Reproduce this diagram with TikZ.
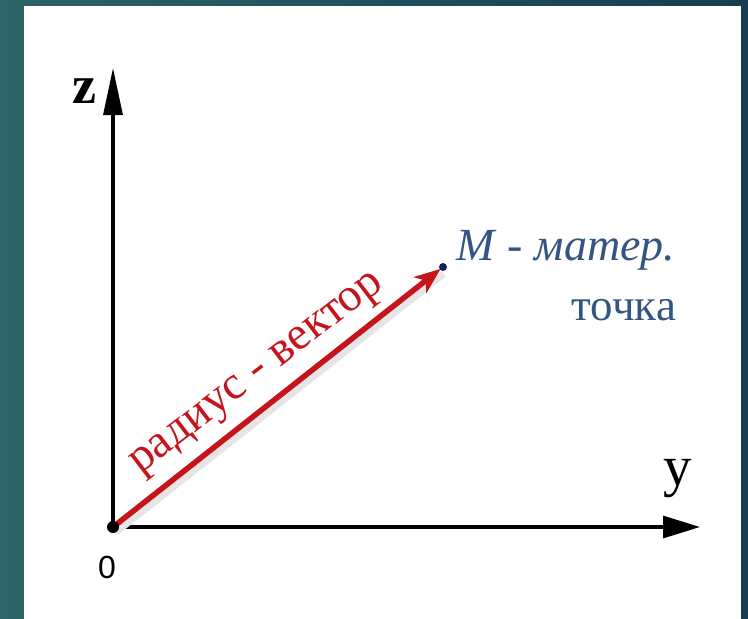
\documentclass[tikz,border=0pt]{standalone}
\usepackage{fontspec}
\setmainfont{Liberation Serif}
\newfontfamily\sansf{Liberation Sans}
\usetikzlibrary{arrows.meta}
\definecolor{bgleft}{RGB}{44,100,104}
\definecolor{bgright}{RGB}{22,60,78}
\definecolor{vecred}{RGB}{198,20,28}
\definecolor{mblue}{RGB}{52,84,132}
\definecolor{mdot}{RGB}{20,30,80}
\begin{document}
\begin{tikzpicture}[x=1pt,y=-1pt,
  axisline/.style={line width=3.2pt, black},
  vecline/.style={line width=5.5pt, vecred, -{Stealth[length=26pt,width=20pt,inset=7pt]}, shorten >=3pt},
  vecshadow/.style={line width=7pt, black!10, shorten >=3pt},
  lbl/.style={inner sep=0pt, outer sep=0pt}]
\useasboundingbox (0,0) rectangle (748,619);
\shade[left color=bgleft,right color=bgright] (0,0) rectangle (748,619);
\fill[white] (24,6) rectangle (741,619);
% axes
\coordinate (O) at (113,527);
\coordinate (Zt) at (113,68);
\coordinate (Yt) at (700,527);
\draw[axisline, -{Triangle[length=47pt,width=19pt]}] (O) -- (Zt);
\draw[axisline, -{Triangle[length=37pt,width=22pt]}] (O) -- (Yt);
% point M
\coordinate (M) at (443,267);
\coordinate (Ms) at ([shift={(3,5)}]M);
\coordinate (Os) at ([shift={(3,5)}]O);
\draw[vecshadow] (Os) -- (Ms);
\draw[vecline] (O) -- (M);
\fill[black] (O) circle (6pt);
\fill[mdot] (M) circle (4pt);
% labels
\node[lbl, font=\bfseries\fontsize{54}{54}\selectfont] (zl) at (84,91) {z};
\node[lbl, font=\fontsize{57}{57}\selectfont] (yl) at (678,479) {y};
\node[lbl, font=\sansf\fontsize{32}{32}\selectfont] (ol) at (107,567) {0};
\node[lbl, anchor=base west, text=mblue, font=\fontsize{46}{46}\selectfont] (ml) at (456,260) {\textit{M} - \textit{матер.}};
\node[lbl, anchor=base east, text=mblue, font=\fontsize{45}{45}\selectfont] (tl) at (676,320) {точка};
\node[lbl, rotate=37.5, text=vecred, font=\fontsize{47}{47}\selectfont] (rl) at (259,376) {радиус - вектор};
\end{tikzpicture}
\end{document}
